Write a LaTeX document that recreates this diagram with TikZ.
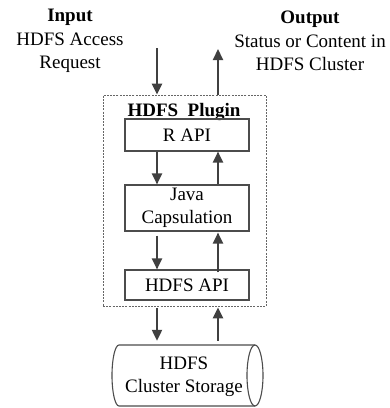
\documentclass[tikz,border=0pt]{standalone}
\usepackage{fontspec}
\setmainfont{Liberation Serif}
\usetikzlibrary{arrows.meta}
\begin{document}
\begin{tikzpicture}[x=1pt,y=1pt,
  every node/.style={font=\fontsize{19}{23.5}\selectfont, inner sep=0pt},
  blk/.style={draw=black!70, line width=1.1pt, minimum width=124pt, align=center},
  plugbox/.style={draw=black!60, line width=0.7pt, dash pattern=on 2pt off 1.2pt, minimum width=163pt, minimum height=211pt},
  arr/.style={draw=black!75, line width=2.2pt, -{Triangle[length=11pt,width=10pt]}},
  cylline/.style={draw=black!70, line width=1.1pt}
]
\useasboundingbox (0,0) rectangle (390,-408);
\coordinate (lx) at (157,0);
\coordinate (rx) at (218,0);
% plugin dashed box
\node[plugbox] (plug) at (184.5,-200.5) {};
\node (plugtitle) at (184,-112) {\textbf{HDFS\ \ Plugin}};
% blocks
\node[blk, minimum height=32pt] (rapi) at (187,-135) {R API};
\node[blk, minimum height=46pt] (java) at (187,-208) {Java\\Capsulation};
\node[blk, minimum height=30pt] (hapi) at (187,-285) {HDFS API};
% cylinder
\node[minimum width=151pt, minimum height=61pt] (cyl) at (187.5,-375.5) {};
\draw[cylline] (255,-345) -- (119,-345) arc (90:270:7 and 30.5) -- (255,-406);
\draw[cylline] (255,-375.5) ellipse (8 and 30.5);
\node[align=center] (cyltext) at (184,-377) {HDFS\\Cluster Storage};
% input / output texts
\node[align=center] (input) at (70,-41) {\textbf{Input}\\HDFS Access\\Request};
\node[align=center] (output) at (310,-41) {\textbf{Output}\\Status or Content in\\HDFS Cluster};
\coordinate (instart) at (157,-48);
\coordinate (outend) at (218,-49);
% arrows
\draw[arr] (instart) -- (plug.north -| lx);
\draw[arr] (plug.north -| rx) -- (outend);
\draw[arr] (rapi.south -| lx) -- (java.north -| lx);
\draw[arr] (java.north -| rx) -- (rapi.south -| rx);
\draw[arr] ([yshift=-4pt]java.south -| lx) -- (hapi.north -| lx);
\draw[arr] ([yshift=-3pt]hapi.north -| rx) -- ([yshift=-1pt]java.south -| rx);
\draw[arr] ([yshift=-2pt]plug.south -| lx) -- ([yshift=4pt]cyl.north -| lx);
\draw[arr] ([yshift=4pt]cyl.north -| rx) -- ([yshift=-1pt]plug.south -| rx);
\end{tikzpicture}
\end{document}
